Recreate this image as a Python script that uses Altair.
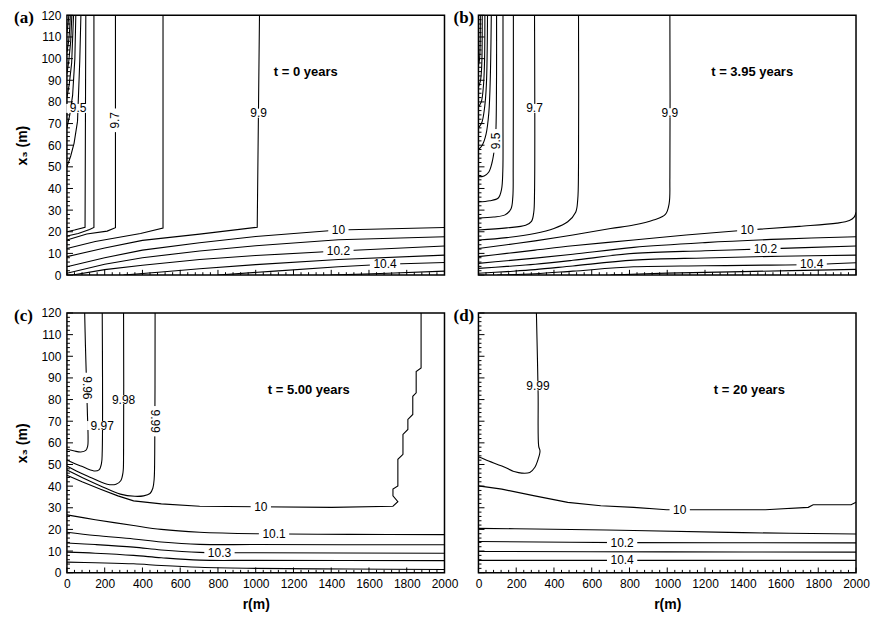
import altair as alt
import pandas as pd

FONT = "Liberation Sans"

# ---------------- tick values ----------------
R_MAJOR = [0, 200, 400, 600, 800, 1000, 1200, 1400, 1600, 1800, 2000]
R_MINOR = [v for v in range(40, 2000, 40) if v % 200 != 0]
X3_MAJOR = [0, 10, 20, 30, 40, 50, 60, 70, 80, 90, 100, 110, 120]
X3_MINOR = [v for v in range(2, 120, 2) if v % 10 != 0]

# ---------------- contour lines, (r, x3) points ----------------
# (a) t = 0 years
A_LINES = {
    "a1": [(0, 112), (6, 116), (10, 120)],
    "a2": [(0, 103), (9, 108), (15, 114), (18, 120)],
    "a3": [(0, 93), (10, 99), (20, 108), (26, 120)],
    "a4": [(0, 82), (12, 88), (25, 98), (35, 120)],
    "a5": [(0, 68), (15, 74), (30, 83), (42, 100), (47, 120)],
    "a6": [(0, 50), (20, 55), (38, 61), (56, 71), (68, 99), (74, 120)],
    "a7": [(0, 20), (40, 20.8), (96, 22.1), (100, 120)],
    "a8": [(0, 18), (60, 19.2), (120, 21), (143, 22), (143, 120)],
    "a9": [(0, 16.2), (105, 19), (213, 20.3), (257, 21.9), (257, 120)],
    "a10": [(0, 12.3), (150, 15.5), (390, 19.2), (509, 21.7), (509, 120)],
    "a11": [(0, 8.5), (200, 12.5), (400, 16), (703, 18.9), (1008, 22.1), (1020, 120)],
    "a12": [(0, 3.8), (200, 8), (400, 11.5), (703, 14.9), (1000, 17.8), (1438, 20.8), (2000, 22.0)],
    "a13": [(0, 0.8), (200, 5), (400, 8), (703, 11.1), (1000, 13.5), (1438, 16.3), (2000, 17.7)],
    "a14": [(30, 0), (200, 2.5), (400, 4.5), (703, 7.2), (1000, 9), (1438, 11.1), (2000, 13.4)],
    "a15": [(300, 0), (500, 1.4), (703, 2.9), (1000, 4.8), (1438, 7.2), (2000, 9.2)],
    "a16": [(800, 0), (1100, 1.8), (1438, 3.8), (1685, 5.0), (2000, 5.8)],
    "a17": [(1400, 0), (1700, 0.8), (2000, 1.8)],
}
A_LABELS = [("9.5", 59, 77, 0), ("9.7", 257, 71.5, 270), ("9.9", 1015, 74.8, 0),
            ("10", 1438, 20.8, 0), ("10.2", 1438, 11.1, 0), ("10.4", 1685, 5.0, 0)]

# (b) t = 3.95 years
B_LINES = {
    "bc5": [(0, 97), (6, 100), (9, 107), (10, 120)],
    "bc4": [(0, 87), (10, 89.5), (17, 96), (20, 120)],
    "bc3": [(0, 77.7), (15, 80), (26, 87), (32, 98), (34, 120)],
    "bc2": [(0, 68), (18, 70.5), (32, 77), (42, 88), (48, 120)],
    "bc1": [(0, 58), (20, 60), (40, 65), (55, 75), (63, 92), (68, 120)],
    "b95": [(0, 45.4), (30, 45.8), (54, 47.5), (72, 52), (84, 58), (92, 66), (95, 80), (96, 100), (96, 120)],
    "b96": [(0, 33.8), (60, 34.3), (105, 35.6), (122, 39.5), (129, 48), (130, 70), (130, 120)],
    "b97a": [(0, 26.3), (80, 26.8), (141, 27.8), (172, 30.5), (182, 36), (184, 50), (185, 120)],
    "b97": [(0, 20.8), (150, 21.8), (250, 23), (281, 24.8), (293, 29), (297, 38), (297, 120)],
    "b98": [(0, 16.2), (150, 17.3), (298, 19.2), (400, 21.5), (473, 24.6), (515, 29), (526, 35), (530, 50), (530, 120)],
    "b99": [(0, 12.3), (150, 14), (300, 15.8), (500, 18.5), (700, 21.5), (822, 23.1), (927, 25.4),
            (990, 28), (1010, 33), (1014, 45), (1014, 120)],
    "b10": [(0, 8.5), (150, 10), (300, 11.5), (500, 13.5), (822, 16.2), (1100, 18.5), (1424, 20.8),
            (1700, 22.5), (1900, 24), (1965, 25.2), (1990, 26.8), (2000, 29)],
    "b101": [(0, 5.4), (150, 6.6), (300, 7.8), (500, 9.6), (822, 12.8), (1200, 15), (1600, 16.6), (2000, 17.7)],
    "b102": [(0, 3.1), (150, 4.0), (300, 5.0), (500, 6.8), (822, 10.0), (1200, 11.2), (1520, 12.1), (2000, 13.4)],
    "b103": [(0, 0.8), (150, 1.6), (300, 2.5), (500, 4.2), (822, 6.9), (1200, 7.9), (1600, 8.7), (2000, 9.2)],
    "b104": [(100, 0), (300, 0.6), (500, 1.8), (822, 3.8), (1200, 4.3), (1765, 4.9), (2000, 5.7)],
    "b105": [(700, 0), (1000, 0.9), (1400, 1.6), (2000, 2.6)],
}
B_LABELS = [("9.5", 94, 62, 270), ("9.7", 297, 77, 0), ("9.9", 1014, 75, 0),
            ("10", 1424, 20.8, 0), ("10.2", 1520, 12.1, 0), ("10.4", 1765, 4.9, 0)]

# (c) t = 5.00 years
C_LINES = {
    "c996": [(0, 57), (40, 56.2), (74, 55.8), (100, 56.5), (110, 58.5), (112, 62), (108, 75), (103, 90), (98, 105), (94, 120)],
    "c997": [(0, 52.1), (40, 50.5), (74, 49.3), (143, 47), (170, 47.5), (183, 50.5), (187, 56), (187, 120)],
    "c998": [(0, 49.3), (50, 47), (108, 44.7), (213, 40.9), (260, 40.9), (285, 42.5), (297, 46.3), (300, 55), (300, 120)],
    "c999": [(0, 47.4), (80, 44), (178, 40.1), (283, 36.3), (360, 35.3), (406, 35.5), (440, 36.6),
             (455, 39), (462, 43.2), (465, 55), (467, 120)],
    "c10": [(0, 45), (80, 42), (178, 38.6), (270, 35.5), (353, 33.2), (500, 31.8), (703, 30.7), (1000, 30.5),
            (1402, 30.2), (1727, 30.7), (1753, 32.8), (1727, 35.5), (1727, 38.6), (1753, 40.1), (1753, 52.4),
            (1780, 54.7), (1780, 63.9), (1806, 66.2), (1806, 70.8), (1832, 73.1), (1832, 81.5), (1850, 83.1),
            (1850, 93.0), (1876, 94.6), (1876, 120)],
    "c101": [(0, 26.7), (150, 24.5), (353, 21.8), (500, 20), (703, 18.7), (1000, 18.0), (1500, 17.7), (2000, 17.6)],
    "c102": [(0, 18.7), (150, 17.2), (353, 15.6), (500, 14.2), (703, 13.1), (1000, 13.0), (2000, 12.9)],
    "c103": [(0, 13.7), (150, 13), (353, 11.8), (500, 10.5), (703, 9.4), (1000, 9.2), (2000, 9.0)],
    "c104": [(0, 9.5), (150, 9), (353, 8), (500, 6.9), (703, 5.8), (1000, 5.7), (2000, 5.6)],
    "c105": [(0, 4.9), (150, 4.6), (353, 4.1), (500, 3.3), (703, 2.5), (1000, 2.0), (1500, 1.7), (2000, 1.5)],
}
C_LABELS = [("9.96", 104, 85.4, 90), ("9.97", 187, 68, 0), ("9.98", 300, 80, 0), ("9.99", 466, 70, 90),
            ("10", 1027, 30.5, 0), ("10.1", 1097, 17.9, 0), ("10.3", 808, 9.3, 0)]

# (d) t = 20 years
D_LINES = {
    "d999": [(0, 53.5), (10, 53.2), (54, 51.6), (124, 49.3), (194, 46.6), (229, 46), (272, 46.3), (298, 48.6),
             (316, 52.4), (326, 56.2), (319, 58.5), (316, 83.2), (307, 120)],
    "d10": [(0, 40.1), (124, 38.6), (298, 35.5), (473, 32.5), (648, 30.9), (822, 30.2), (997, 29.1), (1520, 29.1),
            (1747, 30.2), (1773, 31.4), (1974, 31.4), (2000, 32.5)],
    "d101": [(0, 20.5), (298, 20.2), (822, 19.5), (1400, 18.5), (2000, 17.9)],
    "d102": [(0, 14.4), (761, 13.9), (2000, 13.8)],
    "d103": [(0, 9.8), (1000, 9.6), (2000, 9.5)],
    "d104": [(0, 5.7), (1000, 5.7), (2000, 5.7)],
}
D_LABELS = [("9.99", 315, 86.4, 0), ("10", 1066, 29.1, 0), ("10.2", 761, 13.9, 0), ("10.4", 761, 5.7, 0)]

TAGS = ["(a)", "(b)", "(c)", "(d)"]
TIMES = ["t = 0 years", "t = 3.95 years", "t = 5.00 years", "t = 20 years"]
TIME_R = [1265, 1450, 1281, 1435]
TIME_X3 = [93.7, 93.7, 84.6, 84.6]

XS = alt.Scale(domain=[0, 2000], nice=False, zero=False)
YS = alt.Scale(domain=[0, 120], nice=False, zero=False)

PANEL_W = 378
PANEL_H = 260


def line_frame(lines, keys):
    rows = []
    for key in keys:
        for i, (r, x3) in enumerate(lines[key]):
            rows.append({"line": key, "i": i, "r": r, "x3": x3})
    return pd.DataFrame(rows)


def label_frame(labels):
    rows = []
    for text, r, x3, ang in labels:
        w = sum(3.34 if c == "." else 6.67 for c in text) + 7
        s = w / 2.0
        h = 4.5 / s
        path = "M-1,{0:.4f}L1,{0:.4f}L1,{1:.4f}L-1,{1:.4f}Z".format(-h, h)
        rows.append({"t": text, "r": r, "x3": x3, "angle": ang, "shape": path, "sz": w * w})
    return pd.DataFrame(rows)


def make_panel(idx, lines, linear_keys, labels, show_x, show_y, tag_dx):
    if show_x:
        xaxis = alt.Axis(values=R_MAJOR, format="d", ticks=False, tickSize=0, domain=False, grid=False,
                         labelFontSize=12, labelFont=FONT, labelColor="black", labelPadding=6,
                         labelFlush=False, labelOverlap=False,
                         title="r(m)", titleFont=FONT, titleFontSize=14, titleFontWeight="bold",
                         titleColor="black", titlePadding=8)
    else:
        xaxis = None
    if show_y:
        yaxis = alt.Axis(values=X3_MAJOR, format="d", ticks=False, tickSize=0, domain=False, grid=False,
                         labelFontSize=12, labelFont=FONT, labelColor="black", labelPadding=6,
                         labelFlush=False, labelOverlap=False,
                         title="x₃ (m)", titleFont=FONT, titleFontSize=14, titleFontWeight="bold",
                         titleColor="black", titlePadding=11)
    else:
        yaxis = None

    def X(field):
        return alt.X(field, scale=XS, axis=xaxis, title="r(m)")

    def Y(field):
        return alt.Y(field, scale=YS, axis=yaxis, title="x₃ (m)")

    layers = []
    lin = [k for k in lines if k in linear_keys]
    smooth = [k for k in lines if k not in linear_keys]
    for keys, interp in ((lin, "linear"), (smooth, "catmull-rom")):
        if not keys:
            continue
        df = line_frame(lines, keys)
        layers.append(
            alt.Chart(df).mark_line(color="black", strokeWidth=1.1, interpolate=interp, clip=True).encode(
                x=X("r:Q"), y=Y("x3:Q"), detail="line:N", order="i:Q",
            )
        )

    xt = pd.DataFrame({"r": R_MAJOR + R_MINOR, "x3": 0.0,
                       "y1": [2.4] * len(R_MAJOR) + [1.3] * len(R_MINOR)})
    yt = pd.DataFrame({"x3": X3_MAJOR + X3_MINOR, "r": 0.0,
                       "x1": [32.0] * len(X3_MAJOR) + [16.0] * len(X3_MINOR)})
    layers.append(alt.Chart(xt).mark_rule(color="black", strokeWidth=1).encode(
        x=X("r:Q"), y=Y("x3:Q"), y2="y1:Q"))
    layers.append(alt.Chart(yt).mark_rule(color="black", strokeWidth=1).encode(
        y=Y("x3:Q"), x=X("r:Q"), x2="x1:Q"))

    lf = label_frame(labels)
    layers.append(alt.Chart(lf).mark_point(filled=True, color="white", opacity=1, strokeWidth=0).encode(
        x=X("r:Q"), y=Y("x3:Q"),
        shape=alt.Shape("shape:N", scale=None), size=alt.Size("sz:Q", scale=None),
        angle=alt.Angle("angle:Q", scale=None)))
    layers.append(alt.Chart(lf).mark_text(font=FONT, fontSize=12, color="black").encode(
        x=X("r:Q"), y=Y("x3:Q"), text="t:N", angle=alt.Angle("angle:Q", scale=None)))

    tf = pd.DataFrame({"t": [TIMES[idx]], "r": [TIME_R[idx]], "x3": [TIME_X3[idx]]})
    layers.append(alt.Chart(tf).mark_text(font=FONT, fontSize=13, fontWeight="bold", color="black").encode(
        x=X("r:Q"), y=Y("x3:Q"), text="t:N"))

    gf = pd.DataFrame({"t": [TAGS[idx]]})
    layers.append(alt.Chart(gf).mark_text(font="Liberation Serif", fontSize=17, fontWeight="bold",
                                          color="black", align="left", baseline="middle").encode(
        x=alt.value(tag_dx), y=alt.value(3), text="t:N"))

    return alt.layer(*layers).properties(width=PANEL_W, height=PANEL_H)


pa = make_panel(0, A_LINES, set(A_LINES), A_LABELS, False, True, -53)
pb = make_panel(1, B_LINES, set(), B_LABELS, False, False, -25)
pc = make_panel(2, C_LINES, {"c10"}, C_LABELS, True, True, -53)
pdd = make_panel(3, D_LINES, {"d10"}, D_LABELS, True, False, -25)

chart = alt.concat(pa, pb, pc, pdd, columns=2, spacing={"row": 38, "column": 34}, bounds="flush").properties(
    padding={"left": 5, "top": 0, "right": 0, "bottom": 0}
).configure_view(stroke="black", strokeWidth=1.5)

chart.save("out.html", embed_options={"renderer": "svg", "actions": False})
